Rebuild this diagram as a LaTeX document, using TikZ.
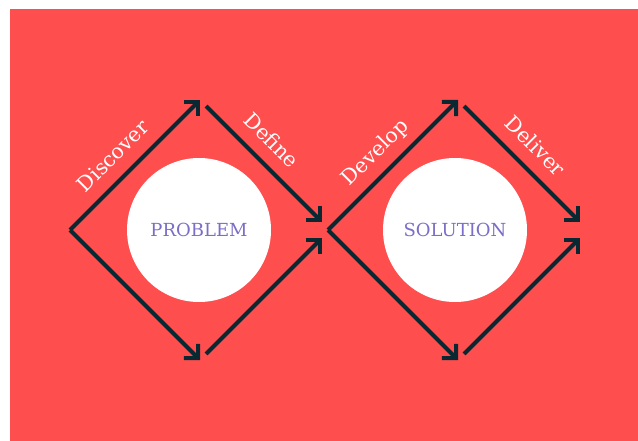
\documentclass[tikz,border=0pt]{standalone}
\usepackage{fontspec}
\setmainfont{DejaVu Serif}
\usetikzlibrary{arrows.meta}
\definecolor{colorBack}{RGB}{255,78,78}
\definecolor{colorLine}{RGB}{10,40,50}
\definecolor{colorTitle}{RGB}{122,110,200}

\begin{document}
\begin{tikzpicture}[x=1pt, y=-1pt, >={Straight Barb[length=10pt, width=20pt]}, line width=4pt,
  phase/.style={sloped, anchor=south, inner sep=0pt, text depth=0pt, yshift=13pt, text=white, font=\fontsize{20.5}{24}\selectfont},
  stage/.style={circle, fill=white, minimum size=144pt, inner sep=0pt, text=colorTitle, font=\fontsize{18}{21}\selectfont}]
\useasboundingbox (0,0) rectangle (638,441);
\fill[colorBack] (10,9) rectangle (638,441);
% problem diamond
\node[stage] (problem) at (199,230) {PROBLEM};
\coordinate (l0) at (70,230);
\coordinate (t0) at (200,100);
\coordinate (t0b) at (206,106);
\coordinate (r0a) at (322,222);
\coordinate (b0) at (200,360);
\coordinate (b0b) at (206,354);
\coordinate (r0b) at (322,238);
\draw[->, colorLine] (l0) -- node[phase, pos=0.45] {Discover} (t0);
\draw[->, colorLine] (t0b) -- node[phase, pos=0.43] {Define} (r0a);
\draw[->, colorLine] (l0) -- (b0);
\draw[->, colorLine] (b0b) -- (r0b);
% solution diamond
\node[stage] (solution) at (455,230) {SOLUTION};
\coordinate (l1) at (328,230);
\coordinate (t1) at (458,100);
\coordinate (t1b) at (464,106);
\coordinate (r1a) at (580,222);
\coordinate (b1) at (458,360);
\coordinate (b1b) at (464,354);
\coordinate (r1b) at (580,238);
\draw[->, colorLine] (l1) -- node[phase, pos=0.48] {Develop} (t1);
\draw[->, colorLine] (t1b) -- node[phase, pos=0.48] {Deliver} (r1a);
\draw[->, colorLine] (l1) -- (b1);
\draw[->, colorLine] (b1b) -- (r1b);
\end{tikzpicture}
\end{document}
